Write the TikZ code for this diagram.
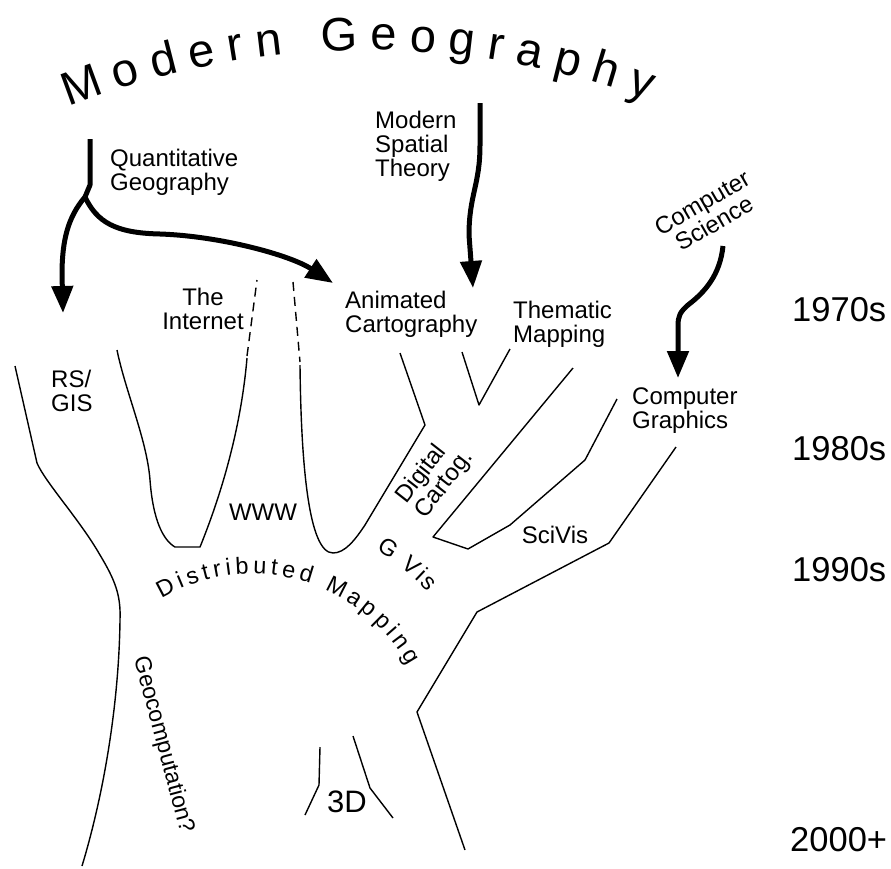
\documentclass[tikz,border=0pt]{standalone}
\usepackage{fontspec}
\setmainfont{Liberation Sans}
\usetikzlibrary{calc,arrows.meta,decorations.text}
\newcommand{\geolabel}{\fontsize{24}{24}\selectfont}
\newcommand{\geoyear}{\fontsize{34.5}{36}\selectfont}
\newcommand{\geotitle}{\fontsize{47}{50}\selectfont}
\newcommand{\geoarc}{\fontsize{23.5}{24}\selectfont}

\begin{document}
\begin{tikzpicture}[x=1pt, y=-1pt,
  branch/.style={line width=1.4pt, line join=round},
  link/.style={line width=1.4pt, dash pattern=on 9pt off 6pt},
  flow/.style={line width=5pt, line join=round, -{Triangle[length=27pt,width=21pt]}},
  lbl/.style={inner sep=0pt, font=\geolabel, align=left, anchor=west},
  yr/.style={inner sep=0pt, font=\geoyear, anchor=west},
  arctext/.style={decorate, decoration={text along path, text align={fit to path}, text={#1}}}]
  \useasboundingbox (0,0) rectangle (891,868);

  \coordinate (titlec) at (367,865);
  \coordinate (distc) at (252,753);
  \path [arctext={|\geotitle|Modern Geography}] ($(titlec)+(111.5:815pt)$) arc [start angle=111.5, end angle=69.8, radius=815pt];
  \path [arctext={|\geoarc|Distributed Mapping}] ($(distc)+(120.4:179pt)$) arc [start angle=120.4, end angle=29.2, radius=179pt];
  \path [arctext={|\geoarc|G Vis}] ($(distc)+(58.6:238pt)$) arc [start angle=58.6, end angle=42.4, radius=238pt];

  \node [lbl] (quant) at (110,172) {Quantitative\\Geography};
  \node [lbl] (spatial) at (375,146) {Modern\\Spatial\\Theory};
  \node [lbl,align=center,anchor=center] (internet) at (203,309) {The\\Internet};
  \node [lbl] (anim) at (345,314) {Animated\\Cartography};
  \node [lbl] (thematic) at (513,324) {Thematic\\Mapping};
  \node [lbl] (graphics) at (632,411) {Computer\\Graphics};
  \node [lbl] (rsgis) at (51,391) {RS/\\GIS};
  \node [lbl,anchor=center] (www) at (263,512) {WWW};
  \node [lbl,anchor=center] (scivis) at (555,535) {SciVis};
  \node [lbl,anchor=center,font=\fontsize{31}{31}\selectfont] (threed) at (347,802) {3D};
  \node [lbl,align=center,anchor=center,rotate=30] (compsci) at (708,213) {Computer\\Science};
  \node [lbl,anchor=center,rotate=52] (digcart) at (435,477) {Digital\\Cartog.};
  \node [lbl,anchor=center,rotate=-75,font=\fontsize{23}{23}\selectfont] (geocomp) at (163,745) {Geocomputation?};

  \node [yr] (y70) at (792,310) {1970s};
  \node [yr] (y80) at (792,449) {1980s};
  \node [yr] (y90) at (792,570) {1990s};
  \node [yr] (y00) at (790,840) {2000+};

  % trunk and branches
  \draw [branch] (15,366) -- (37,463) .. controls (45,482) and (80,520) .. (100,555)
    .. controls (115,580) and (121,595) .. (120,620) .. controls (119,700) and (105,790) .. (82,866);
  \draw [branch] (117,350) .. controls (125,390) and (147,440) .. (150,480) .. controls (153,520) and (163,540) .. (175,547)
    -- (200,547) .. controls (215,510) and (240,440) .. (247,358);
  \draw [link] (247,356) -- (257,280);
  \draw [link] (293,282) -- (300,362);
  \draw [branch] (300,365) .. controls (301,460) and (308,553) .. (333,553)
    .. controls (345,553) and (355,540) .. (365,525) -- (425,425) -- (400,353);
  \draw [branch] (462,352) -- (479,405) -- (510,349);
  \draw [branch] (573,368) -- (433,537) -- (468,549) -- (510,525) -- (585,460) -- (617,399);
  \draw [branch] (676,447) -- (609,543) -- (477,612) -- (417,712) -- (465,850);
  \draw [branch] (320,747) -- (319,785) -- (305,815);
  \draw [branch] (353,736) -- (370,788) -- (393,818);

  % influences
  \coordinate (qtop) at (90,139);
  \coordinate (qfork) at (85,197);
  \coordinate (qleft) at (63,313);
  \coordinate (qright) at (333,283);
  \coordinate (mtop) at (480,103);
  \coordinate (mend) at (473,288);
  \coordinate (ctop) at (723,246);
  \coordinate (cend) at (678,378);
  \draw [line width=5pt, line join=round] (qtop) -- (90,185) -- (qfork);
  \draw [flow] (qfork) .. controls (68,217) and (62,240) .. (62,275) -- (qleft);
  \draw [flow] (qfork) .. controls (97,222) and (115,233) .. (160,234) .. controls (220,236) and (290,255) .. (qright);
  \draw [flow] (mtop) -- (480,145) .. controls (480,185) and (469,195) .. (469,235) -- (mend);
  \draw [flow] (ctop) .. controls (720,275) and (705,292) .. (688,305) .. controls (680,312) and (678,316) .. (678,326) -- (cend);
\end{tikzpicture}
\end{document}
